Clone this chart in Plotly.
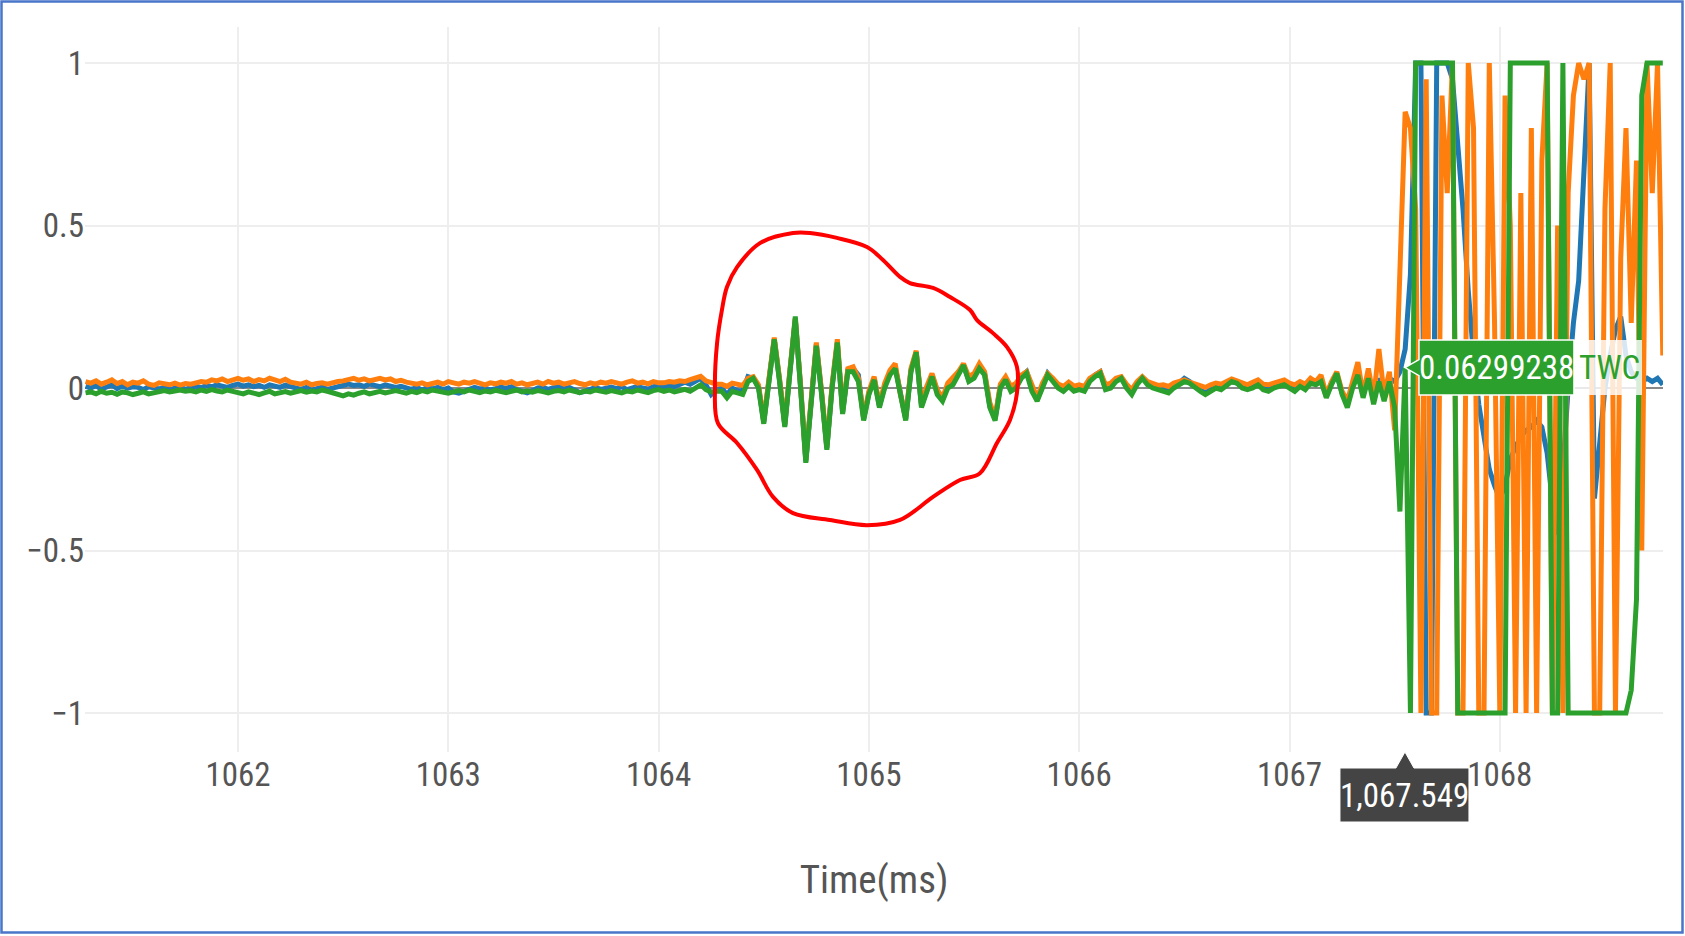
import plotly.graph_objects as go

# ---------------- data ----------------
T_START_MS = 1061.275   # first sample time
T_STEP_MS = 0.025       # sampling interval

SERIES_NAMES = ["TWA", "TWB", "TWC"]
SERIES_COLORS = ["#1f77b4", "#ff7f0e", "#2ca02c"]

BLUE_QUIET = [
    .005, 0, .008, -.004, .003, .01, -.002, .006, 0, .004,
    .002, -.005, .004, 0, -.003, .002, -.006, 0, .003, -.004,
    .002, .006, .001, .008, .004, .01, .006, .002, .008, .012,
    .006, .01, .004, .008, .002, .01, .006, .002, .009, .004,
    0, -.004, .002, -.006, -.002, .003, -.004, 0, .005, .008,
    .012, .008, .01, .005, .012, .008, .004, .01, .006, .002,
    .005, 0, -.004, .002, -.006, .001, -.003, .002, -.005, 0,
    -.012, -.016, -.008, -.004, .002, -.003, 0, -.006, -.002, .003,
    -.001, .004, -.005, -.012, -.015, -.008, 0, .002, -.004, .001,
    .004, -.003, .002, -.006, -.014, -.01, -.003, .002, -.004, 0,
    .003, -.002, .004, -.005, .001, .005, 0, -.003, .004, .006,
    .002, .008, .004, .012, .018, .012, .02, .03, .01, -.02, -.005,
]
BLUE_BURST = [
    0, -.02, 0, -.008, -.01, .035, .03, .005, -.105, .025,
    .15, .025, -.115, .055, .21, .005, -.225, -.045, .135, -.015,
    -.185, .005, .14, -.075, .055, .06, .04, -.095, -.015, .03,
    -.055, .005, .045, .065, -.025, -.095, .055, .11, -.055, -.005,
    .04, -.01, -.035, .005, .02, .045, .07, .025, .035, .065,
    .045, -.055, -.095, .005, .03, 0, .005, .035, .05, 0,
    -.035, .005, .045, .025, .005, -.005, .01, -.005, 0, -.005,
    .025, .04, .05, 0, .005, .025, .03, .005, -.015, .015,
    .03, .015, .005, 0, -.005, -.01, .005, .015, .03, .02,
    .005, -.005, -.015, -.005, .005, 0, .015, .02, .015, .005,
    0, .005, .012, 0, -.005, .005, .01, .012, .005, -.005,
    .01, 0, .02, .012, .025, -.025, .015, .04, -.015, -.05,
    .01, .05, -.02, .04, -.04, .03, -.03, .03, .02, .05,
]
BLUE_SAT = [
    .12, .35, 1, 1, -1, -1, 1, 1, 1, .95,
    .75, .55, .3, .1, -.05, -.15, -.25, -.3, -.34, -.3,
    -.22, -.18, -.15, -.13, -.12, -.1, -.12, -.2, -.35, -.45,
    -.25, 0, .2, .33, .7, 1, -.34, -.15, 0, .1,
    .18, .22, .1, .05, .03, .02, .03, .02, .03, .01,
]

ORANGE_QUIET = [
    .02, .015, .022, .012, .018, .025, .014, .02, .01, .018,
    .015, .022, .012, .008, .016, .012, .01, .015, .009, .014,
    .012, .016, .02, .018, .025, .022, .028, .02, .026, .03,
    .024, .028, .02, .026, .022, .03, .025, .02, .027, .018,
    .015, .012, .018, .01, .014, .016, .012, .018, .02, .022,
    .026, .03, .024, .028, .022, .026, .03, .025, .028, .02,
    .024, .018, .015, .012, .016, .01, .014, .018, .012, .02,
    .016, .012, .018, .015, .02, .014, .01, .016, .013, .018,
    .015, .02, .012, .016, .01, .014, .018, .012, .02, .015,
    .018, .012, .016, .02, .014, .01, .016, .012, .018, .015,
    .02, .016, .012, .018, .022, .015, .018, .013, .02, .016,
    .016, .02, .018, .022, .02, .026, .03, .036, .022, .018, .012,
]
ORANGE_BURST = [
    .012, .005, .015, .01, .008, .03, .035, .01, -.1, .03,
    .155, .03, -.11, .06, .215, .01, -.22, -.04, .14, -.01,
    -.18, .01, .15, -.07, .06, .065, .03, -.09, -.01, .035,
    -.05, .015, .055, .075, -.02, -.09, .06, .115, -.05, .005,
    .045, -.005, -.03, .015, .03, .05, .075, .035, .045, .075,
    .05, -.045, -.09, .012, .035, .005, .015, .04, .05, .005,
    -.03, .015, .045, .03, .012, .005, .018, .006, .01, .005,
    .03, .04, .05, .01, .015, .03, .035, .012, -.005, .02,
    .035, .02, .012, .008, .01, .005, .015, .02, .025, .018,
    .012, .008, .002, .01, .015, .012, .02, .028, .022, .015,
    .01, .018, .025, .012, .01, .015, .02, .025, .015, .01,
    .02, .012, .03, .02, .04, -.02, .02, .05, -.01, -.04,
    .02, .08, -.02, .06, -.03, .12, -.02, .05, -.13, .35,
]
ORANGE_SAT = [
    .85, .8, .55, -1, .95, -1, -1, .9, .6, 1,
    -1, -1, 1, .8, -1, -1, 1, .2, -1, .9,
    .5, -1, .6, -1, .8, -1, .7, 1, -1, .5,
    -1, .6, .9, 1, .95, 1, -1, -1, .55, 1,
    -1, .4, .8, .2, .7, -.5, 1, .6, 1, .1,
]

GREEN_QUIET = [
    -.015, -.012, -.018, -.01, -.016, -.013, -.019, -.012, -.015, -.02,
    -.016, -.012, -.018, -.014, -.01, -.008, -.012, -.009, -.006, -.01,
    -.008, -.012, -.006, -.01, -.005, -.009, -.012, -.006, -.01, -.014,
    -.018, -.012, -.016, -.02, -.015, -.01, -.018, -.014, -.011, -.016,
    -.012, -.008, -.013, -.009, -.012, -.006, -.01, -.014, -.02, -.024,
    -.018, -.022, -.016, -.012, -.018, -.014, -.01, -.015, -.012, -.008,
    -.012, -.016, -.01, -.014, -.008, -.012, -.006, -.01, -.013, -.016,
    -.012, -.008, -.012, -.006, -.01, -.014, -.009, -.012, -.007, -.011,
    -.014, -.01, -.006, -.012, -.009, -.013, -.008, -.011, -.015, -.01,
    -.008, -.012, -.006, -.01, -.014, -.009, -.012, -.006, -.01, -.013,
    -.008, -.012, -.015, -.009, -.012, -.006, -.01, -.014, -.008, -.005,
    -.01, -.006, -.012, -.008, -.004, -.01, 0, .01, -.005, -.012, -.01,
]
GREEN_BURST = [
    -.01, -.03, -.01, -.015, -.02, .02, .03, 0, -.11, .02,
    .15, .02, -.12, .05, .22, 0, -.23, -.05, .13, -.02,
    -.19, 0, .14, -.08, .05, .05, .02, -.1, -.02, .025,
    -.06, 0, .04, .06, -.03, -.1, .05, .11, -.06, -.01,
    .035, -.02, -.04, 0, .01, .04, .07, .02, .03, .06,
    .04, -.06, -.1, 0, .025, -.01, 0, .03, .045, -.01,
    -.04, 0, .04, .02, 0, -.01, .005, -.01, -.005, -.01,
    .02, .035, .045, -.005, 0, .02, .03, 0, -.02, .01,
    .03, .01, 0, -.005, -.01, -.015, 0, .01, .02, .015,
    0, -.01, -.02, -.01, 0, -.005, .01, .02, .015, 0,
    -.005, 0, .01, -.005, -.01, 0, .005, .01, 0, -.01,
    .005, -.005, .015, .01, .02, -.03, .01, .045, -.02, -.06,
    0, .04, -.03, .03, -.05, .02, -.04, .02, -.06, -.38,
]
GREEN_SAT = [
    .06299238, -1, 1, 1, 1, 1, 1, 1, 1, 1,
    -1, -1, -1, -1, -1, -1, -1, -1, -1, -1,
    1, 1, 1, 1, 1, 1, 1, 1, -1, -1,
    1, -1, -1, -1, -1, -1, -1, -1, -1, -1,
    -1, -1, -1, -.93, -.65, .9, 1, 1, 1, 1,
]

X_TICKS = [1062, 1063, 1064, 1065, 1066, 1067, 1068]
Y_TICKS = [-1, -0.5, 0, 0.5, 1]
Y_TICK_TEXT = ["\u22121", "\u22120.5", "0", "0.5", "1"]
X_TITLE = "Time(ms)"

# hover read-out shown in the picture
HOVER_T = 1067.549
HOVER_V = 0.06299238
HOVER_NAME = "TWC"
HOVER_X_TEXT = "1,067.549"
HOVER_Y_TEXT = "0.06299238"

# hand-drawn red outline (time, value)
CIRCLE_T = [1064.639, 1064.482, 1064.373, 1064.325, 1064.301, 1064.278, 1064.268,
            1064.282, 1064.373, 1064.468, 1064.544, 1064.639, 1064.815, 1064.991,
            1065.148, 1065.305, 1065.433, 1065.528, 1065.609, 1065.671, 1065.704,
            1065.704, 1065.657, 1065.590, 1065.514, 1065.481, 1065.386, 1065.305,
            1065.195, 1065.148, 1065.067, 1064.991, 1064.848, 1064.720]
CIRCLE_V = [0.477, 0.446, 0.372, 0.311, 0.240, 0.138, 0.003,
            -0.108, -0.169, -0.252, -0.335, -0.385, -0.406, -0.422,
            -0.406, -0.335, -0.283, -0.262, -0.169, -0.098, -0.015,
            0.065, 0.126, 0.169, 0.209, 0.240, 0.280, 0.308,
            0.323, 0.342, 0.394, 0.434, 0.462, 0.477]

# ---------------- figure ----------------
FONT = "Liberation Sans Narrow, Roboto Condensed, DejaVu Sans Condensed, Arial Narrow, sans-serif"
TEXT_GREY = "#555555"

series = [
    BLUE_QUIET + BLUE_BURST + BLUE_SAT,
    ORANGE_QUIET + ORANGE_BURST + ORANGE_SAT,
    GREEN_QUIET + GREEN_BURST + GREEN_SAT,
]

fig = go.Figure()
for name, color, values in zip(SERIES_NAMES, SERIES_COLORS, series):
    times = [T_START_MS + k * T_STEP_MS for k in range(len(values))]
    fig.add_trace(go.Scatter(x=times, y=values, name=name, mode="lines",
                             line=dict(color=color, width=5)))

fig.add_trace(go.Scatter(x=CIRCLE_T + CIRCLE_T[:1], y=CIRCLE_V + CIRCLE_V[:1],
                         mode="lines", hoverinfo="skip",
                         line=dict(color="#ff0000", width=4, shape="spline", smoothing=1)))

fig.update_layout(
    width=1685, height=936, autosize=False,
    margin=dict(l=85, r=22, t=27, b=184),
    paper_bgcolor="white", plot_bgcolor="white",
    showlegend=False,
    font=dict(family=FONT, color=TEXT_GREY),
)
fig.update_xaxes(
    range=[1061.2725, 1068.776], tickvals=X_TICKS,
    showgrid=True, gridcolor="#eeeeee", gridwidth=2,
    zeroline=False, showline=False, ticks="",
    tickfont=dict(size=33, color=TEXT_GREY, family=FONT),
    title=dict(text=X_TITLE, font=dict(size=39, color=TEXT_GREY, family=FONT), standoff=72),
)
fig.update_yaxes(
    range=[-1.12, 1.111], tickvals=Y_TICKS, ticktext=Y_TICK_TEXT,
    showgrid=True, gridcolor="#eeeeee", gridwidth=2,
    zeroline=True, zerolinecolor="#888888", zerolinewidth=2,
    showline=False, ticks="",
    tickfont=dict(size=33, color=TEXT_GREY, family=FONT),
)

# y hover label (green, with notch) + name area
fig.add_shape(type="path", xref="x", yref="y", xsizemode="pixel", ysizemode="pixel",
              xanchor=HOVER_T, yanchor=HOVER_V,
              path="M0,0L14,8L14,27.5L169,27.5L169,-27.5L14,-27.5L14,-8Z",
              fillcolor=SERIES_COLORS[2], line=dict(color="#ffffff", width=1.5), layer="above")
fig.add_shape(type="rect", xref="x", yref="y", xsizemode="pixel", ysizemode="pixel",
              xanchor=HOVER_T, yanchor=HOVER_V, x0=169, x1=237, y0=-27.5, y1=27.5,
              fillcolor="rgba(255,255,255,0.82)", line=dict(width=0), layer="above")
fig.add_annotation(x=HOVER_T, y=HOVER_V, xref="x", yref="y", text=HOVER_Y_TEXT,
                   showarrow=False, xanchor="center", yanchor="middle", xshift=91.5,
                   font=dict(family=FONT, size=33, color="#ffffff"))
fig.add_annotation(x=HOVER_T, y=HOVER_V, xref="x", yref="y", text=HOVER_NAME,
                   showarrow=False, xanchor="center", yanchor="middle", xshift=205,
                   font=dict(family=FONT, size=33, color=SERIES_COLORS[2]))

# x hover label (dark, with notch at the axis)
fig.add_shape(type="path", xref="x", yref="paper", xsizemode="pixel", ysizemode="pixel",
              xanchor=HOVER_T, yanchor=0,
              path="M0,0L9,-16L64,-16L64,-70L-65,-70L-65,-16L-9,-16Z",
              fillcolor="#444444", line=dict(color="#ffffff", width=1), layer="above")
fig.add_annotation(x=HOVER_T, y=0, xref="x", yref="paper", text=HOVER_X_TEXT,
                   showarrow=False, xanchor="center", yanchor="middle", yshift=-43,
                   font=dict(family=FONT, size=33, color="#ffffff"))

# screenshot frame
fig.add_shape(type="rect", xref="paper", yref="paper",
              x0=(1.5 - 85) / 1578, x1=(1682.5 - 85) / 1578,
              y0=(752 - 932.5) / 725, y1=(752 - 1.5) / 725,
              line=dict(color="#4a76c9", width=2.5), fillcolor="rgba(0,0,0,0)", layer="above")

fig.write_html("out.html")
